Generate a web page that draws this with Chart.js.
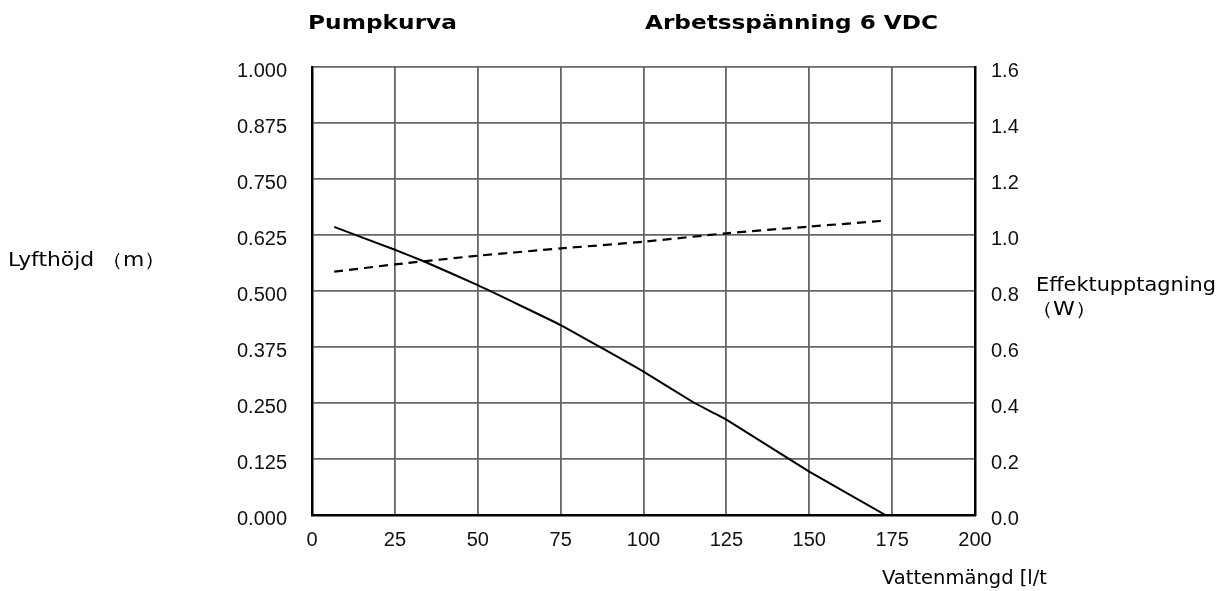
<!DOCTYPE html>
<html>
<head>
<meta charset="utf-8">
<script src="https://cdn.jsdelivr.net/npm/chart.js@4"></script>
<style>
  html, body { margin: 0; padding: 0; background: #fff; }
  #wrap { width: 1224px; height: 591px; position: relative; }
</style>
</head>
<body>
<div id="wrap"><canvas id="pumpChart" width="1224" height="591"></canvas></div>
<script>
// Pumpkurva - Lyfthöjd och Effektupptagning mot Vattenmängd
const flowHead = [6.7, 25, 33.5, 50, 75, 100, 115.4, 125, 150, 173];
const headValues = [0.643, 0.592, 0.567, 0.513, 0.424, 0.32, 0.25, 0.213, 0.097, 0.0];

const flowPower = [6.7, 25, 50, 75, 100, 125, 150, 171.6];
const powerValues = [0.869, 0.895, 0.926, 0.952, 0.976, 1.006, 1.03, 1.05];

const titleLeft = 'Pumpkurva';
const titleRight = 'Arbetsspänning 6 VDC';
const yLeftTitle = 'Lyfthöjd （m）';
const yRightTitle = ['Effektupptagning', '（W）'];
const xTitle = 'Vattenmängd [l/t';

const tickFont = { family: 'Liberation Sans, Arial, sans-serif', size: 20 };
const gridColor = '#666';

// Text horizontal gestreckt zeichnen (Vorlage ist ein gestreckter Scan)
function drawFit(c, text, x, y, width) {
    const w = c.measureText(text).width;
    c.save();
    c.translate(x, y);
    c.scale(width / w, 1);
    c.fillText(text, 0, 0);
    c.restore();
}

const textPlugin = {
    id: 'textPlugin',
    afterDraw(chart) {
        const c = chart.ctx;
        c.save();
        c.fillStyle = '#000';
        c.textBaseline = 'alphabetic';
        c.textAlign = 'left';
        c.font = 'bold 20px "DejaVu Sans", Verdana, sans-serif';
        drawFit(c, titleLeft, 308, 29, 149);
        drawFit(c, titleRight, 645, 29, 293);
        c.font = '19px "DejaVu Sans", Verdana, sans-serif';
        drawFit(c, yLeftTitle, 8, 266, 158);
        drawFit(c, yRightTitle[0], 1036, 291, 180);
        drawFit(c, yRightTitle[1], 1031, 315, 66);
        drawFit(c, xTitle, 882, 584, 165);
        c.restore();
    }
};

const ctx = document.getElementById('pumpChart').getContext('2d');
const pumpChart = new Chart(ctx, {
    type: 'line',
    data: {
        datasets: [{
            label: 'Lyfthöjd',
            data: flowHead.map((x, i) => ({ x: x, y: headValues[i] })),
            borderColor: '#000',
            borderWidth: 2,
            pointRadius: 0,
            fill: false,
            tension: 0.1,
            yAxisID: 'y'
        }, {
            label: 'Effektupptagning',
            data: flowPower.map((x, i) => ({ x: x, y: powerValues[i] })),
            borderColor: '#000',
            borderWidth: 2.2,
            borderDash: [9, 6],
            pointRadius: 0,
            fill: false,
            tension: 0.2,
            yAxisID: 'y1'
        }]
    },
    options: {
        responsive: false,
        animation: false,
        layout: { padding: { top: 67, left: 0, right: 0, bottom: 0 } },
        plugins: { legend: { display: false }, tooltip: { enabled: false } },
        scales: {
            x: {
                type: 'linear',
                min: 0,
                max: 200,
                ticks: { stepSize: 25, color: '#111', font: tickFont, padding: 13, maxRotation: 0 },
                grid: { color: gridColor, lineWidth: 1.8, drawTicks: false },
                border: { color: '#000', width: 2.5 },
                afterFit(scale) { scale.height = 76; }
            },
            y: {
                type: 'linear',
                position: 'left',
                min: 0,
                max: 1,
                ticks: {
                    stepSize: 0.125,
                    color: '#111',
                    font: tickFont,
                    padding: 25,
                    labelOffset: 4,
                    callback: v => v.toFixed(3)
                },
                grid: { color: gridColor, lineWidth: 1.8, drawTicks: false },
                border: { color: '#000', width: 2.5 },
                afterFit(scale) { scale.width = 312; }
            },
            y1: {
                type: 'linear',
                position: 'right',
                min: 0,
                max: 1.6,
                ticks: {
                    stepSize: 0.2,
                    color: '#111',
                    font: tickFont,
                    padding: 16,
                    labelOffset: 4,
                    callback: v => v.toFixed(1)
                },
                grid: { drawOnChartArea: false, drawTicks: false },
                border: { color: '#000', width: 2.5 },
                afterFit(scale) { scale.width = 249; }
            }
        }
    },
    plugins: [textPlugin]
});
</script>
</body>
</html>
